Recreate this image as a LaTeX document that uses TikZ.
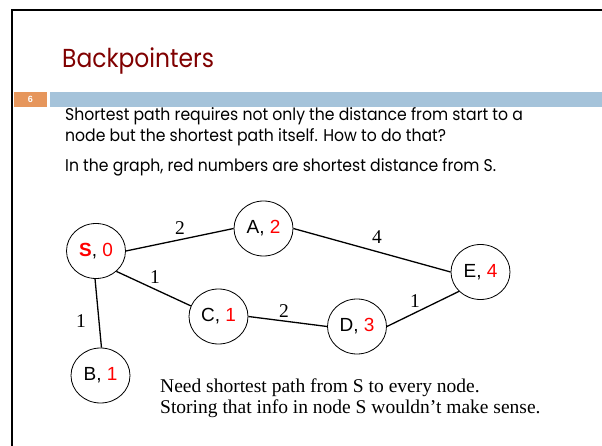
\documentclass[tikz,border=0pt]{standalone}
\usepackage{fontspec}
\usetikzlibrary{shapes.geometric}
\newfontfamily\bodyfont[FakeStretch=0.92]{Poppins}
\newfontfamily\titlefont[FakeStretch=0.9]{Poppins}
\newfontfamily\arialfont{Liberation Sans}
\newfontfamily\timesfont{Liberation Serif}
\definecolor{titlered}{HTML}{800000}
\definecolor{barorange}{HTML}{E6965C}
\definecolor{barblue}{HTML}{A5C3DA}
\definecolor{numred}{HTML}{FF0000}
\begin{document}
\begin{tikzpicture}[x=1pt,y=-1pt,
  gnode/.style={ellipse,draw,line width=0.8pt,minimum width=59pt,minimum height=55pt,inner sep=0pt,
    font=\arialfont\fontsize{19}{22}\selectfont},
  gedge/.style={line width=1.3pt},
  wlabel/.style={font=\timesfont\fontsize{19.5}{22}\selectfont,inner sep=0pt},
  bodytext/.style={font=\bodyfont\fontsize{17}{20}\selectfont,anchor=base west,inner sep=0pt},
  bottomtext/.style={font=\timesfont\fontsize{19.5}{21}\selectfont,anchor=base west,inner sep=0pt}]
\useasboundingbox (0,0) rectangle (602,446);
\fill[white] (0,0) rectangle (602,446);
% frame
\draw[line width=2pt] (12,446) -- (12,10) -- (602,10);
% bars
\fill[barorange] (14,92) rectangle (47,107);
\fill[barblue] (50,92) rectangle (602,107);
\node[font=\arialfont\bfseries\fontsize{9}{10}\selectfont,text=white,inner sep=0pt] (num) at (30.5,99.5) {6};
% title
\node[font=\titlefont\fontsize{26}{30}\selectfont,text=titlered,anchor=base west,inner sep=0pt] (title) at (62,68) {Backpointers};
% body text
\node[bodytext] (l1) at (65,121) {Shortest path requires not only the distance from start to a};
\node[bodytext] (l2) at (65,142) {node but the shortest path itself. How to do that?};
\node[bodytext] (l3) at (65,172) {In the graph, red numbers are shortest distance from S.};
% graph nodes
\node[gnode] (S) at (96,251) {\textcolor{numred}{\bfseries S}, \textcolor{numred}{0}};
\node[gnode] (A) at (263.5,228.5) {A, \textcolor{numred}{2}};
\node[gnode] (C) at (218.5,316.5) {C, \textcolor{numred}{1}};
\node[gnode] (B) at (100.5,375.5) {B, \textcolor{numred}{1}};
\node[gnode] (D) at (357,326.5) {D, \textcolor{numred}{3}};
\node[gnode] (E) at (480.5,272) {E, \textcolor{numred}{4}};
% edges
\draw[gedge] (S.0) -- (A.180);
\draw[gedge] (S.-45) -- (C.159);
\draw[gedge] (S.-92) -- (B.88);
\draw[gedge] (C.0) -- (D.180);
\draw[gedge] (A.0) -- (E.180);
\draw[gedge] (D.0) -- (E.222);
% edge labels
\node[wlabel] (wSA) at (180,228) {2};
\node[wlabel] (wSC) at (155,277) {1};
\node[wlabel] (wSB) at (81,321) {1};
\node[wlabel] (wCD) at (284,311) {2};
\node[wlabel] (wAE) at (377,237) {4};
\node[wlabel] (wDE) at (415,301) {1};
% bottom text
\node[bottomtext] (b1) at (160,392) {Need shortest path from S to every node.};
\node[bottomtext] (b2) at (160,413) {Storing that info in node S wouldn’t make sense.};
\end{tikzpicture}
\end{document}
